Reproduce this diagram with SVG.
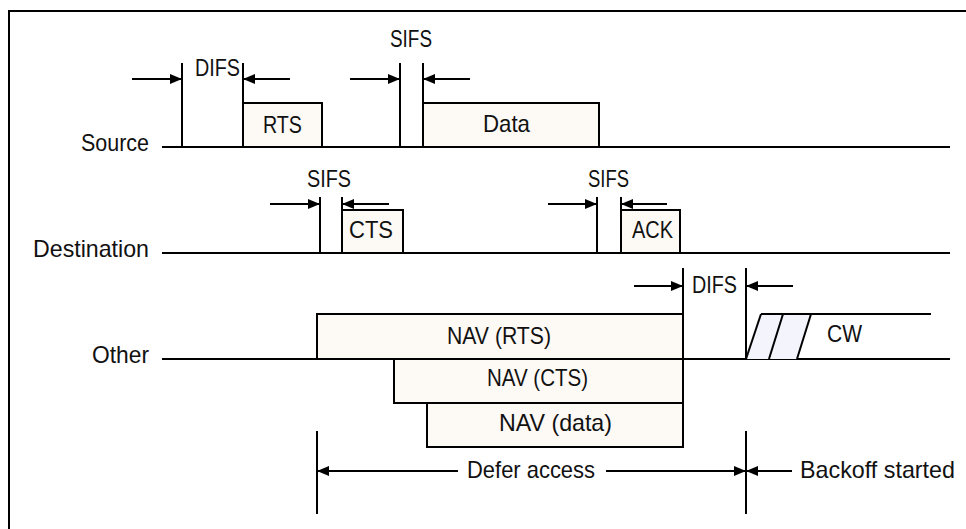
<svg xmlns="http://www.w3.org/2000/svg" width="966" height="529" viewBox="0 0 966 529">
<style>
  .ln{stroke:#000;stroke-width:2;fill:none}
  .box{fill:#fdf9f5;stroke:#000;stroke-width:2}
  .t{font-family:"Liberation Sans",Arial,sans-serif;font-size:24px;fill:#111}
</style>
<defs>
  <marker id="ah" markerUnits="userSpaceOnUse" markerWidth="13" markerHeight="11" refX="12" refY="5" orient="auto">
    <path d="M0,0 L12,5 L0,10 z" fill="#000"/>
  </marker>
</defs>
<rect width="966" height="529" fill="#fff"/>
<polyline class="ln" points="9,529 9,11 966,11"/>

<g id="rows">
  <g id="row-source">
    <line class="ln" x1="162" y1="147" x2="950" y2="147"/>
    <text class="t" x="81" y="151" textLength="68" lengthAdjust="spacingAndGlyphs">Source</text>
  </g>
  <g id="row-destination">
    <line class="ln" x1="162" y1="253" x2="950" y2="253"/>
    <text class="t" x="33" y="257" textLength="116" lengthAdjust="spacingAndGlyphs">Destination</text>
  </g>
  <g id="row-other">
    <line class="ln" x1="162" y1="359" x2="950" y2="359"/>
    <text class="t" x="92" y="363" textLength="57" lengthAdjust="spacingAndGlyphs">Other</text>
  </g>
</g>

<g id="rts">
  <rect class="box" x="243" y="103" width="79" height="44"/>
  <text class="t" x="263" y="133" textLength="39" lengthAdjust="spacingAndGlyphs">RTS</text>
</g>
<g id="data">
  <rect class="box" x="423" y="103" width="176" height="44"/>
  <text class="t" x="483" y="132" textLength="47" lengthAdjust="spacingAndGlyphs">Data</text>
</g>
<g id="cts">
  <rect class="box" x="342" y="210" width="61" height="43"/>
  <text class="t" x="349" y="238" textLength="44" lengthAdjust="spacingAndGlyphs">CTS</text>
</g>
<g id="ack">
  <rect class="box" x="621" y="210" width="59" height="43"/>
  <text class="t" x="632" y="238" textLength="41" lengthAdjust="spacingAndGlyphs">ACK</text>
</g>
<g id="nav-rts">
  <rect class="box" x="317" y="314" width="366" height="45"/>
  <text class="t" x="447" y="344" textLength="104" lengthAdjust="spacingAndGlyphs">NAV (RTS)</text>
</g>
<g id="nav-cts">
  <rect class="box" x="394" y="359" width="289" height="44"/>
  <text class="t" x="487" y="386" textLength="101" lengthAdjust="spacingAndGlyphs">NAV (CTS)</text>
</g>
<g id="nav-data">
  <rect class="box" x="427" y="403" width="256" height="44"/>
  <text class="t" x="499" y="431" textLength="113" lengthAdjust="spacingAndGlyphs">NAV (data)</text>
</g>
<g id="cw">
  <polygon points="746,359 761,314 811,314 797,359" fill="#f3f4fc" stroke="none"/>
  <line class="ln" x1="746" y1="359" x2="761" y2="314"/>
  <line class="ln" x1="769" y1="359" x2="783" y2="314"/>
  <line class="ln" x1="797" y1="359" x2="811" y2="314"/>
  <line class="ln" x1="761" y1="314" x2="931" y2="314"/>
  <text class="t" x="827" y="342" textLength="35" lengthAdjust="spacingAndGlyphs">CW</text>
</g>

<g id="connectors">
  <line class="ln" x1="182" y1="63" x2="182" y2="147"/>
  <line class="ln" x1="243" y1="63" x2="243" y2="147"/>
  <line class="ln" x1="132" y1="79" x2="182" y2="79" marker-end="url(#ah)"/>
  <line class="ln" x1="290" y1="79" x2="243" y2="79" marker-end="url(#ah)"/>
  <line class="ln" x1="400" y1="63" x2="400" y2="147"/>
  <line class="ln" x1="423" y1="63" x2="423" y2="147"/>
  <line class="ln" x1="350" y1="79" x2="400" y2="79" marker-end="url(#ah)"/>
  <line class="ln" x1="470" y1="79" x2="423" y2="79" marker-end="url(#ah)"/>
  <line class="ln" x1="320" y1="197" x2="320" y2="253"/>
  <line class="ln" x1="342" y1="197" x2="342" y2="253"/>
  <line class="ln" x1="270" y1="204" x2="320" y2="204" marker-end="url(#ah)"/>
  <line class="ln" x1="389" y1="204" x2="342" y2="204" marker-end="url(#ah)"/>
  <line class="ln" x1="597" y1="197" x2="597" y2="253"/>
  <line class="ln" x1="621" y1="197" x2="621" y2="253"/>
  <line class="ln" x1="548" y1="204" x2="597" y2="204" marker-end="url(#ah)"/>
  <line class="ln" x1="667" y1="204" x2="621" y2="204" marker-end="url(#ah)"/>
  <line class="ln" x1="683" y1="268" x2="683" y2="314"/>
  <line class="ln" x1="746" y1="268" x2="746" y2="359"/>
  <line class="ln" x1="634" y1="286" x2="683" y2="286" marker-end="url(#ah)"/>
  <line class="ln" x1="793" y1="286" x2="746" y2="286" marker-end="url(#ah)"/>
  <line class="ln" x1="317" y1="431" x2="317" y2="514"/>
  <line class="ln" x1="746" y1="431" x2="746" y2="514"/>
  <line class="ln" x1="458" y1="471" x2="317" y2="471" marker-end="url(#ah)"/>
  <line class="ln" x1="606" y1="471" x2="746" y2="471" marker-end="url(#ah)"/>
  <line class="ln" x1="792" y1="471" x2="746" y2="471" marker-end="url(#ah)"/>
</g>

<g id="labels">
  <text class="t" x="195" y="76" textLength="45" lengthAdjust="spacingAndGlyphs">DIFS</text>
  <text class="t" x="390" y="47" textLength="42" lengthAdjust="spacingAndGlyphs">SIFS</text>
  <text class="t" x="307" y="187" textLength="44" lengthAdjust="spacingAndGlyphs">SIFS</text>
  <text class="t" x="588" y="187" textLength="41" lengthAdjust="spacingAndGlyphs">SIFS</text>
  <text class="t" x="692" y="293" textLength="45" lengthAdjust="spacingAndGlyphs">DIFS</text>
  <text class="t" x="467" y="478" textLength="128" lengthAdjust="spacingAndGlyphs">Defer access</text>
  <text class="t" x="800" y="478" textLength="155" lengthAdjust="spacingAndGlyphs">Backoff started</text>
</g>
</svg>
